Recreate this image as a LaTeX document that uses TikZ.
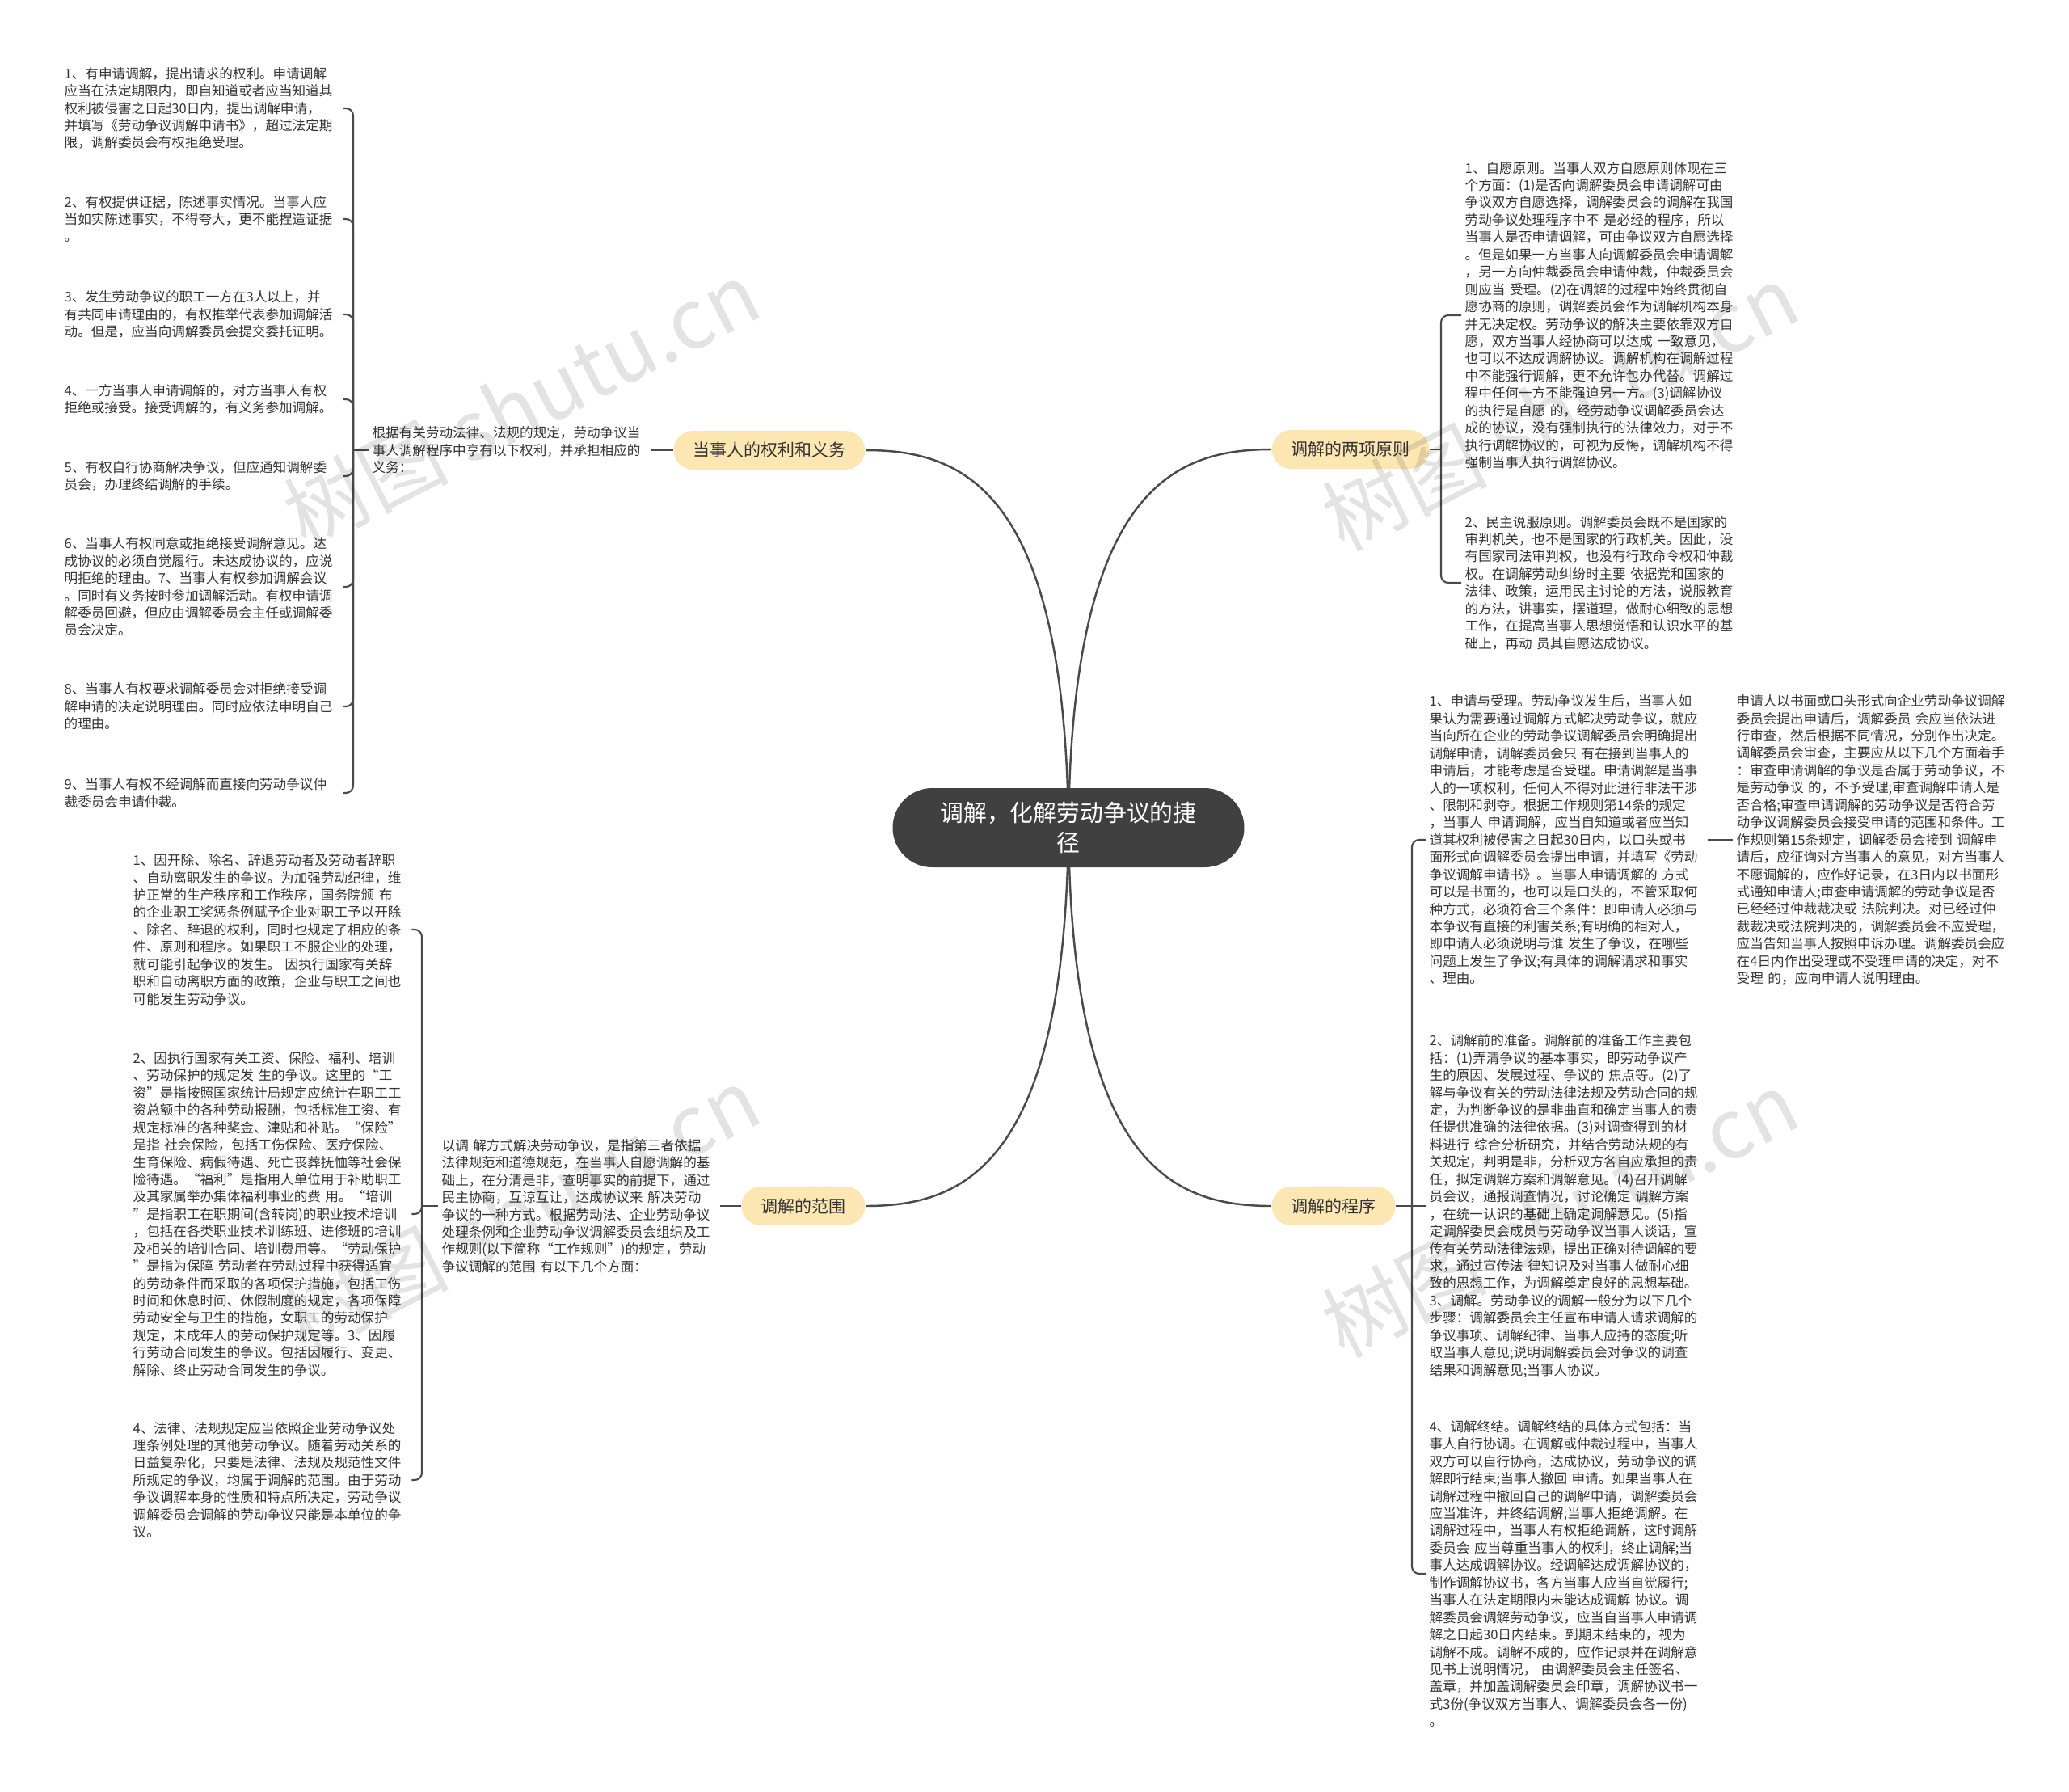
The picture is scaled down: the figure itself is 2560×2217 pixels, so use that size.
\documentclass[tikz,border=0pt]{standalone}
\usepackage{fontspec}
\setmainfont{Noto Sans CJK SC}
\usetikzlibrary{backgrounds}
\definecolor{hubfill}{HTML}{404040}
\definecolor{branchfill}{HTML}{FCE7B3}
\definecolor{linkgray}{HTML}{4A4A4A}
\definecolor{textgray}{HTML}{333333}
\newcommand{\hubtext}{\fontsize{8.2}{10.7}\selectfont}
\newcommand{\branchtext}{\fontsize{5.97}{7.2}\selectfont}
\newcommand{\leaftext}{\fontsize{4.72}{6.1}\selectfont}
\newcommand{\marktext}{\fontsize{29}{33}\selectfont}
\tikzset{
  link/.style={draw=linkgray,line width=.7pt},
  brace/.style={draw=linkgray,line width=.6pt,rounded corners=.9mm},
  hub/.style={fill=hubfill,text=white,rounded corners=4.9mm,minimum width=43.5mm,minimum height=9.8mm,align=center,font=\hubtext},
  branch/.style={fill=branchfill,text=textgray,rounded corners=2.4mm,minimum height=4.8mm,inner xsep=2.4mm,inner ysep=0pt,font=\branchtext},
  leaf/.style={text=textgray,align=left,text width=34mm,inner xsep=.4mm,inner ysep=0pt,font=\leaftext},
  stamp/.style={text=black,text opacity=.11,rotate=27,font=\marktext}
}

\begin{document}
\begin{tikzpicture}[x=.1mm,y=-.1mm]
  \useasboundingbox (0,0) rectangle (2560,2217);

  % Central topic and the four main branches.
  \node[hub] (hub) at (1322,1024) {调解，化解劳动争议的捷\\径};
  \node[branch,anchor=east] (rights) at (1071,557) {当事人的权利和义务};
  \node[branch,anchor=west] (principles) at (1573,556) {调解的两项原则};
  \node[branch,anchor=east] (scope) at (1071,1492) {调解的范围};
  \node[branch,anchor=west] (procedure) at (1573,1492) {调解的程序};

  % Rights and duties of the parties.
  \node[leaf,anchor=west] (rightsnote) at (456,557) {根据有关劳动法律、法规的规定，劳动争议当\\事人调解程序中享有以下权利，并承担相应的\\义务：};
  \node[leaf,anchor=west] (ra1) at (75,134) {1、有申请调解，提出请求的权利。申请调解\\应当在法定期限内，即自知道或者应当知道其\\权利被侵害之日起30日内，提出调解申请，\\并填写《劳动争议调解申请书》，超过法定期\\限，调解委员会有权拒绝受理。};
  \node[leaf,anchor=west] (ra2) at (75,271) {2、有权提供证据，陈述事实情况。当事人应\\当如实陈述事实，不得夸大，更不能捏造证据\\。};
  \node[leaf,anchor=west] (ra3) at (75,389) {3、发生劳动争议的职工一方在3人以上，并\\有共同申请理由的，有权推举代表参加调解活\\动。但是，应当向调解委员会提交委托证明。};
  \node[leaf,anchor=west] (ra4) at (75,494) {4、一方当事人申请调解的，对方当事人有权\\拒绝或接受。接受调解的，有义务参加调解。};
  \node[leaf,anchor=west] (ra5) at (75,589) {5、有权自行协商解决争议，但应通知调解委\\员会，办理终结调解的手续。};
  \node[leaf,anchor=west] (ra6) at (75,726) {6、当事人有权同意或拒绝接受调解意见。达\\成协议的必须自觉履行。未达成协议的，应说\\明拒绝的理由。7、当事人有权参加调解会议\\。同时有义务按时参加调解活动。有权申请调\\解委员回避，但应由调解委员会主任或调解委\\员会决定。};
  \node[leaf,anchor=west] (ra7) at (75,874) {8、当事人有权要求调解委员会对拒绝接受调\\解申请的决定说明理由。同时应依法申明自己\\的理由。};
  \node[leaf,anchor=west] (ra8) at (75,981) {9、当事人有权不经调解而直接向劳动争议仲\\裁委员会申请仲裁。};

  % Scope of mediation.
  \node[leaf,anchor=west] (scopenote) at (542,1492) {以调 解方式解决劳动争议，是指第三者依据\\法律规范和道德规范，在当事人自愿调解的基\\础上，在分清是非，查明事实的前提下，通过\\民主协商，互谅互让，达成协议来 解决劳动\\争议的一种方式。根据劳动法、企业劳动争议\\处理条例和企业劳动争议调解委员会组织及工\\作规则(以下简称“工作规则”)的规定，劳动\\争议调解的范围 有以下几个方面：};
  \node[leaf,anchor=west] (sc1) at (160,1150) {1、因开除、除名、辞退劳动者及劳动者辞职\\、自动离职发生的争议。为加强劳动纪律，维\\护正常的生产秩序和工作秩序，国务院颁 布\\的企业职工奖惩条例赋予企业对职工予以开除\\、除名、辞退的权利，同时也规定了相应的条\\件、原则和程序。如果职工不服企业的处理，\\就可能引起争议的发生。 因执行国家有关辞\\职和自动离职方面的政策，企业与职工之间也\\可能发生劳动争议。};
  \node[leaf,anchor=west] (sc2) at (160,1502) {2、因执行国家有关工资、保险、福利、培训\\、劳动保护的规定发 生的争议。这里的“工\\资”是指按照国家统计局规定应统计在职工工\\资总额中的各种劳动报酬，包括标准工资、有\\规定标准的各种奖金、津贴和补贴。“保险”\\是指 社会保险，包括工伤保险、医疗保险、\\生育保险、病假待遇、死亡丧葬抚恤等社会保\\险待遇。“福利”是指用人单位用于补助职工\\及其家属举办集体福利事业的费 用。“培训\\”是指职工在职期间(含转岗)的职业技术培训\\，包括在各类职业技术训练班、进修班的培训\\及相关的培训合同、培训费用等。“劳动保护\\”是指为保障 劳动者在劳动过程中获得适宜\\的劳动条件而采取的各项保护措施，包括工伤\\时间和休息时间、休假制度的规定，各项保障\\劳动安全与卫生的措施，女职工的劳动保护\\规定，未成年人的劳动保护规定等。3、因履\\行劳动合同发生的争议。包括因履行、变更、\\解除、终止劳动合同发生的争议。};
  \node[leaf,anchor=west] (sc3) at (160,1831) {4、法律、法规规定应当依照企业劳动争议处\\理条例处理的其他劳动争议。随着劳动关系的\\日益复杂化，只要是法律、法规及规范性文件\\所规定的争议，均属于调解的范围。由于劳动\\争议调解本身的性质和特点所决定，劳动争议\\调解委员会调解的劳动争议只能是本单位的争\\议。};

  % The two principles.
  \node[leaf,anchor=west] (tr1) at (1808,390) {1、自愿原则。当事人双方自愿原则体现在三\\个方面：(1)是否向调解委员会申请调解可由\\争议双方自愿选择，调解委员会的调解在我国\\劳动争议处理程序中不 是必经的程序，所以\\当事人是否申请调解，可由争议双方自愿选择\\。但是如果一方当事人向调解委员会申请调解\\，另一方向仲裁委员会申请仲裁，仲裁委员会\\则应当 受理。(2)在调解的过程中始终贯彻自\\愿协商的原则，调解委员会作为调解机构本身\\并无决定权。劳动争议的解决主要依靠双方自\\愿，双方当事人经协商可以达成 一致意见，\\也可以不达成调解协议。调解机构在调解过程\\中不能强行调解，更不允许包办代替。调解过\\程中任何一方不能强迫另一方。(3)调解协议\\的执行是自愿 的，经劳动争议调解委员会达\\成的协议，没有强制执行的法律效力，对于不\\执行调解协议的，可视为反悔，调解机构不得\\强制当事人执行调解协议。};
  \node[leaf,anchor=west] (tr2) at (1808,721) {2、民主说服原则。调解委员会既不是国家的\\审判机关，也不是国家的行政机关。因此，没\\有国家司法审判权，也没有行政命令权和仲裁\\权。在调解劳动纠纷时主要 依据党和国家的\\法律、政策，运用民主讨论的方法，说服教育\\的方法，讲事实，摆道理，做耐心细致的思想\\工作，在提高当事人思想觉悟和认识水平的基\\础上，再动 员其自愿达成协议。};

  % The mediation procedure.
  \node[leaf,anchor=west] (pr1) at (1764,1039) {1、申请与受理。劳动争议发生后，当事人如\\果认为需要通过调解方式解决劳动争议，就应\\当向所在企业的劳动争议调解委员会明确提出\\调解申请，调解委员会只 有在接到当事人的\\申请后，才能考虑是否受理。申请调解是当事\\人的一项权利，任何人不得对此进行非法干涉\\、限制和剥夺。根据工作规则第14条的规定\\，当事人 申请调解，应当自知道或者应当知\\道其权利被侵害之日起30日内，以口头或书\\面形式向调解委员会提出申请，并填写《劳动\\争议调解申请书》。当事人申请调解的 方式\\可以是书面的，也可以是口头的，不管采取何\\种方式，必须符合三个条件：即申请人必须与\\本争议有直接的利害关系;有明确的相对人，\\即申请人必须说明与谁 发生了争议，在哪些\\问题上发生了争议;有具体的调解请求和事实\\、理由。};
  \node[leaf,anchor=west] (pr1b) at (2144,1039) {申请人以书面或口头形式向企业劳动争议调解\\委员会提出申请后，调解委员 会应当依法进\\行审查，然后根据不同情况，分别作出决定。\\调解委员会审查，主要应从以下几个方面着手\\：审查申请调解的争议是否属于劳动争议，不\\是劳动争议 的，不予受理;审查调解申请人是\\否合格;审查申请调解的劳动争议是否符合劳\\动争议调解委员会接受申请的范围和条件。工\\作规则第15条规定，调解委员会接到 调解申\\请后，应征询对方当事人的意见，对方当事人\\不愿调解的，应作好记录，在3日内以书面形\\式通知申请人;审查申请调解的劳动争议是否\\已经经过仲裁裁决或 法院判决。对已经过仲\\裁裁决或法院判决的，调解委员会不应受理，\\应当告知当事人按照申诉办理。调解委员会应\\在4日内作出受理或不受理申请的决定，对不\\受理 的，应向申请人说明理由。};
  \node[leaf,anchor=west] (pr2) at (1764,1492) {2、调解前的准备。调解前的准备工作主要包\\括：(1)弄清争议的基本事实，即劳动争议产\\生的原因、发展过程、争议的 焦点等。(2)了\\解与争议有关的劳动法律法规及劳动合同的规\\定，为判断争议的是非曲直和确定当事人的责\\任提供准确的法律依据。(3)对调查得到的材\\料进行 综合分析研究，并结合劳动法规的有\\关规定，判明是非，分析双方各自应承担的责\\任，拟定调解方案和调解意见。(4)召开调解\\员会议，通报调查情况，讨论确定 调解方案\\，在统一认识的基础上确定调解意见。(5)指\\定调解委员会成员与劳动争议当事人谈话，宣\\传有关劳动法律法规，提出正确对待调解的要\\求，通过宣传法 律知识及对当事人做耐心细\\致的思想工作，为调解奠定良好的思想基础。\\3、调解。劳动争议的调解一般分为以下几个\\步骤：调解委员会主任宣布申请人请求调解的\\争议事项、调解纪律、当事人应持的态度;听\\取当事人意见;说明调解委员会对争议的调查\\结果和调解意见;当事人协议。};
  \node[leaf,anchor=west] (pr3) at (1764,1947) {4、调解终结。调解终结的具体方式包括：当\\事人自行协调。在调解或仲裁过程中，当事人\\双方可以自行协商，达成协议，劳动争议的调\\解即行结束;当事人撤回 申请。如果当事人在\\调解过程中撤回自己的调解申请，调解委员会\\应当准许，并终结调解;当事人拒绝调解。在\\调解过程中，当事人有权拒绝调解，这时调解\\委员会 应当尊重当事人的权利，终止调解;当\\事人达成调解协议。经调解达成调解协议的，\\制作调解协议书，各方当事人应当自觉履行;\\当事人在法定期限内未能达成调解 协议。调\\解委员会调解劳动争议，应当自当事人申请调\\解之日起30日内结束。到期未结束的，视为\\调解不成。调解不成的，应作记录并在调解意\\见书上说明情况， 由调解委员会主任签名、\\盖章，并加盖调解委员会印章，调解协议书一\\式3份(争议双方当事人、调解委员会各一份)\\。};

  % Curved links from the centre, kept behind the hub.
  \begin{scope}[on background layer]
    \draw[link] (hub.center) .. controls +(-4,-420) and +(120,0) .. (rights.east);
    \draw[link] (hub.center) .. controls +(4,-420) and +(-120,0) .. (principles.west);
    \draw[link] (hub.center) .. controls +(-4,420) and +(120,0) .. (scope.east);
    \draw[link] (hub.center) .. controls +(4,420) and +(-120,0) .. (procedure.west);
  \end{scope}

  % Brackets gathering the detail notes.
  \coordinate (rightsjoin) at (437,557);
  \coordinate (scopejoin) at (522,1492);
  \coordinate (principlesjoin) at (1783,556);
  \coordinate (procedurejoin) at (1747,1492);
  \draw[brace] (rights.west) -- (rightsnote.east);
  \draw[brace] (rightsnote.west) -- (rightsjoin);
  \foreach \leafname in {ra1,ra2,ra3,ra4,ra5,ra6,ra7,ra8}
    \draw[brace] (rightsjoin) |- (\leafname.east);
  \draw[brace] (scope.west) -- (scopenote.east);
  \draw[brace] (scopenote.west) -- (scopejoin);
  \foreach \leafname in {sc1,sc2,sc3}
    \draw[brace] (scopejoin) |- (\leafname.east);
  \draw[brace] (principles.east) -- (principlesjoin);
  \foreach \leafname in {tr1,tr2}
    \draw[brace] (principlesjoin) |- (\leafname.west);
  \draw[brace] (procedure.east) -- (pr2.west);
  \foreach \leafname in {pr1,pr3}
    \draw[brace] (procedurejoin) |- (\leafname.west);
  \draw[brace] (pr1.east) -- (pr1b.west);

  % Faint site stamps.
  \node[stamp] (wm1) at (645,500) {树图 shutu.cn};
  \node[stamp] (wm2) at (1930,504) {树图 shutu.cn};
  \node[stamp] (wm3) at (645,1497) {树图 shutu.cn};
  \node[stamp] (wm4) at (1930,1502) {树图 shutu.cn};
\end{tikzpicture}
\end{document}
